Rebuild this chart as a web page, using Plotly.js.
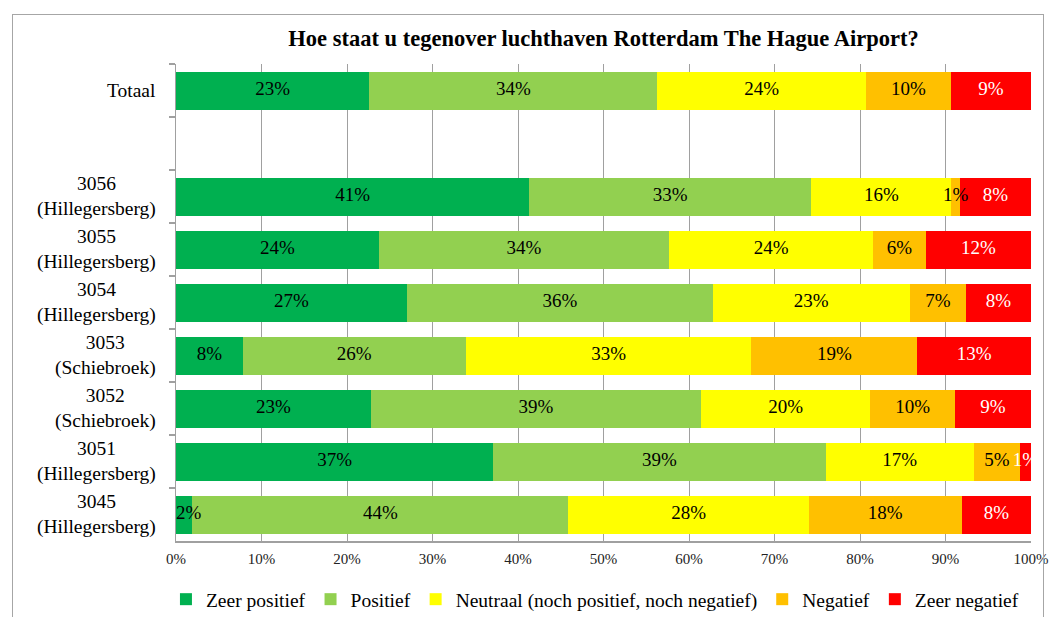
<!DOCTYPE html>
<html><head><meta charset="utf-8">
<script src="https://cdn.plot.ly/plotly-3.0.1.min.js"></script>
<style>
html,body{margin:0;padding:0;background:#fff;}
#chart{position:absolute;left:0;top:0;width:1050px;height:617px;}
#frame{position:absolute;left:12px;top:14px;width:1030px;height:640px;border:1.5px solid #a6a6a6;pointer-events:none;}
</style></head><body>
<div id="chart"></div><div id="frame"></div>
<script>
// ---- data ----
const categories = ['Totaal', '', '3056', '3055', '3054', '3053', '3052', '3051', '3045'];
const areas = ['', '', 'Hillegersberg', 'Hillegersberg', 'Hillegersberg', 'Schiebroek', 'Schiebroek', 'Hillegersberg', 'Hillegersberg'];
const seriesNames = ['Zeer positief', 'Positief', 'Neutraal (noch positief, noch negatief)', 'Negatief', 'Zeer negatief'];
const zeerPositief = [22.6, null, 41.3, 23.7, 27.0, 7.8, 22.8, 37.1, 1.9];
const positief     = [33.7, null, 33.0, 34.0, 35.8, 26.1, 38.6, 38.9, 44.0];
const neutraal     = [24.4, null, 16.4, 23.8, 23.0, 33.4, 19.8, 17.3, 28.1];
const negatief     = [9.9,  null, 1.0,  6.2,  6.6,  19.4, 9.9,  5.4,  17.9];
const zeerNegatief = [9.4,  null, 8.3,  12.3, 7.6,  13.3, 8.9,  1.3,  8.1];
const xTickValues = [0, 10, 20, 30, 40, 50, 60, 70, 80, 90, 100];
const titleText = 'Hoe staat u tegenover luchthaven Rotterdam The Hague Airport?';

// ---- styles ----
const colors = ['#00B050', '#92D050', '#FFFF00', '#FFC000', '#FF0000'];
const textColors = ['#000000', '#000000', '#000000', '#000000', '#FFFFFF'];
const FONT = '"Liberation Serif", "Times New Roman", serif';
const W = 1050, H = 617;
const M = {l: 176, r: 19, t: 64, b: 76};
const plotW = W - M.l - M.r, plotH = H - M.t - M.b;
const barTextSize = 19;

const yKeys = categories.map((c, i) => areas[i] ? c + ' (' + areas[i] + ')' : (c || ' '));
const seriesValues = [zeerPositief, positief, neutraal, negatief, zeerNegatief];

// stacked bars
const barTraces = seriesValues.map((vals, k) => ({
  type: 'bar', orientation: 'h', name: seriesNames[k],
  x: vals, y: yKeys,
  marker: {color: colors[k], line: {width: 0}},
  hoverinfo: 'skip'
}));

// value labels drawn on top of all bars (so small labels may overlap neighbours, as in the reference)
const starts = categories.map(() => 0);
const labelTraces = seriesValues.map((vals, k) => {
  const xs = [], pos = [];
  vals.forEach((v, i) => {
    if (v === null) { xs.push(null); pos.push('middle center'); return; }
    const s = starts[i];
    if (s === 0 && v < 3) { xs.push(s); pos.push('middle right'); }
    else { xs.push(s + v / 2); pos.push('middle center'); }
    starts[i] = s + v;
  });
  return {
    type: 'scatter', mode: 'text', x: xs, y: yKeys, showlegend: false,
    text: vals.map(v => v === null ? '' : Math.round(v) + '%'),
    textposition: pos, cliponaxis: true,
    textfont: {family: FONT, size: barTextSize, color: textColors[k]},
    hoverinfo: 'skip'
  };
});

// category labels as annotations (centred two-line labels)
const labelSize = 19.5;
const labelRight = 157;
const px2paper = px => (px - M.l) / plotW;
const annotations = categories.map((c, i) => {
  if (!c) return null;
  const txt = areas[i] ? c + '<br>(' + areas[i] + ')' : c;
  return {xref: 'paper', yref: 'y', x: px2paper(labelRight + 1), y: yKeys[i], text: txt,
    xanchor: 'right', yanchor: 'middle', align: 'center', showarrow: false,
    font: {family: FONT, size: labelSize, color: '#000'}};
}).filter(a => a);

const layout = {
  width: W, height: H,
  margin: M,
  paper_bgcolor: '#ffffff', plot_bgcolor: '#ffffff',
  barmode: 'stack', bargap: 0.283,
  title: {text: '<b>' + titleText + '</b>', x: 0.5, xref: 'paper', xanchor: 'center',
          y: 1 - 38 / H, yref: 'container', yanchor: 'middle',
          font: {family: FONT, size: 22.5, color: '#000'}},
  xaxis: {range: [0, 100], tickvals: xTickValues, ticktext: xTickValues.map(v => v + '%'),
          showgrid: true, gridcolor: '#a0a0a0', gridwidth: 1,
          showline: true, linecolor: '#a0a0a0', linewidth: 1.5, zeroline: false,
          ticks: '', ticklabelstandoff: 3,
          tickfont: {family: FONT, size: 15, color: '#222'}, fixedrange: true},
  yaxis: {type: 'category', categoryorder: 'array', categoryarray: yKeys,
          range: [categories.length - 0.5, -0.5],
          showline: true, linecolor: '#a0a0a0', linewidth: 1.5,
          ticks: 'outside', ticklen: 6, tickcolor: '#a0a0a0', tickwidth: 1.5, tickson: 'boundaries',
          showticklabels: false, showgrid: false, zeroline: false, fixedrange: true},
  legend: {orientation: 'h', traceorder: 'normal', x: 0.49, xanchor: 'center',
           yref: 'container', y: (H - 580) / H, yanchor: 'top',
           font: {family: FONT, size: 19.5, color: '#000'}, itemwidth: 30},
  annotations: annotations,
  showlegend: true
};

Plotly.newPlot('chart', barTraces.concat(labelTraces), layout, {displayModeBar: false, staticPlot: true});
</script>
</body></html>
